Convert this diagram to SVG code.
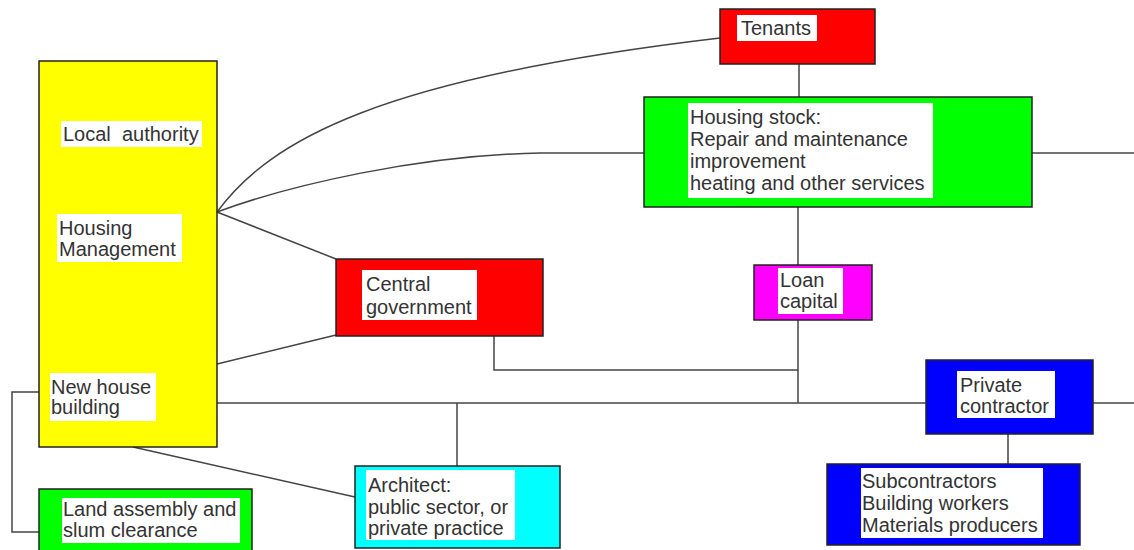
<svg xmlns="http://www.w3.org/2000/svg" width="1134" height="550" viewBox="0 0 1134 550">
<style>
.box{stroke:#222;stroke-width:1.5}
.bg{fill:#fff}
text{font-family:"Liberation Sans",Arial,sans-serif;font-size:20px;fill:#333;white-space:pre}
.c{fill:none;stroke:#444;stroke-width:1.5}
</style>
<rect width="1134" height="550" fill="#fff"/>
<g id="connectors">
<path class="c" d="M217,212 C270,140 380,78 720,38"/>
<path class="c" d="M217,212 C290,185 420,155 540,153 L644,153"/>
<path class="c" d="M217,212 L336,259"/>
<path class="c" d="M217,364 L336,335"/>
<path class="c" d="M494,336 V370 H798"/>
<path class="c" d="M799,64 V97"/>
<path class="c" d="M798,207 V265"/>
<path class="c" d="M798,320 V403"/>
<path class="c" d="M217,403 H926"/>
<path class="c" d="M457,403 V466"/>
<path class="c" d="M1093,403 H1134"/>
<path class="c" d="M1032,153 H1134"/>
<path class="c" d="M1008,434 V464"/>
<path class="c" d="M39,392 H12 V532 H39"/>
<path class="c" d="M133,447 L355,497"/>
</g>
<g id="local-authority">
<rect class="box" x="39" y="61" width="178" height="386" fill="#ffff00"/>
<rect class="bg" x="61" y="121" width="141" height="26"/>
<text x="63" y="141">Local  authority</text>
<rect class="bg" x="57" y="214" width="125" height="48"/>
<text x="59" y="235">Housing</text>
<text x="59" y="256">Management</text>
<rect class="bg" x="50" y="373" width="106" height="48"/>
<text x="51" y="394">New house</text>
<text x="51" y="414">building</text>
</g>
<g id="land-assembly">
<rect class="box" x="39" y="489" width="213" height="70" fill="#00ff00"/>
<rect class="bg" x="62" y="498" width="178" height="45"/>
<text x="63" y="516">Land assembly and</text>
<text x="63" y="537">slum clearance</text>
</g>
<g id="central-government">
<rect class="box" x="336" y="259" width="207" height="77" fill="#ff0000"/>
<rect class="bg" x="362" y="270" width="115" height="50"/>
<text x="366" y="291">Central</text>
<text x="366" y="314">government</text>
</g>
<g id="tenants">
<rect class="box" x="720" y="9" width="155" height="55" fill="#ff0000"/>
<rect class="bg" x="737" y="15" width="80" height="26"/>
<text x="741" y="35">Tenants</text>
</g>
<g id="housing-stock">
<rect class="box" x="644" y="97" width="388" height="110" fill="#00ff00"/>
<rect class="bg" x="688" y="103" width="245" height="95"/>
<text x="690" y="124">Housing stock:</text>
<text x="690" y="146">Repair and maintenance</text>
<text x="690" y="168">improvement</text>
<text x="690" y="190">heating and other services</text>
</g>
<g id="loan-capital">
<rect class="box" x="754" y="265" width="118" height="55" fill="#ff00ff"/>
<rect class="bg" x="778" y="268" width="65" height="46"/>
<text x="780" y="287">Loan</text>
<text x="780" y="308">capital</text>
</g>
<g id="private-contractor">
<rect class="box" x="926" y="360" width="167" height="74" fill="#0000ff"/>
<rect class="bg" x="957" y="371" width="98" height="47"/>
<text x="960" y="392">Private</text>
<text x="960" y="413">contractor</text>
</g>
<g id="subcontractors">
<rect class="box" x="827" y="464" width="253" height="81" fill="#0000ff"/>
<rect class="bg" x="861" y="468" width="182" height="70"/>
<text x="862" y="488">Subcontractors</text>
<text x="862" y="510">Building workers</text>
<text x="862" y="532">Materials producers</text>
</g>
<g id="architect">
<rect class="box" x="355" y="466" width="205" height="82" fill="#00ffff"/>
<rect class="bg" x="366" y="470" width="149" height="70"/>
<text x="368" y="492">Architect:</text>
<text x="368" y="514">public sector, or</text>
<text x="368" y="535">private practice</text>
</g>
</svg>
